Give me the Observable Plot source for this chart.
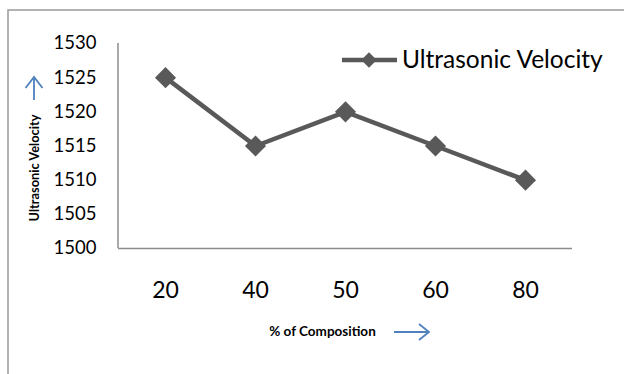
<!DOCTYPE html>
<html><head><meta charset="utf-8">
<script src="https://cdn.jsdelivr.net/npm/d3@7"></script>
<script src="https://cdn.jsdelivr.net/npm/@observablehq/plot@0.6"></script>
<style>body{margin:0;background:#fff;font-family:Lato,"Open Sans",sans-serif}#c{position:relative;width:624px;height:374px}</style>
</head><body><div id="c"></div>
<script>
const compositions = ["20","40","50","60","80"];
const velocities = [1525, 1515, 1520, 1515, 1510];
const yTicks = [1500,1505,1510,1515,1520,1525,1530];
const seriesName = "Ultrasonic Velocity";
const xTitle = "% of Composition";
const yTitle = "Ultrasonic Velocity";
const data = compositions.map((c,i)=>({c, v: velocities[i]}));
const col = "#595959";
const W=624,H=374, mL=118, mR=52, mT=43, mB=126;
const chart = Plot.plot({
  width:W, height:H, marginLeft:mL, marginRight:mR, marginTop:mT, marginBottom:mB,
  style:{fontFamily:"Lato, 'Open Sans', sans-serif", background:"transparent"},
  x:{type:"band", domain:compositions, padding:0, label:null},
  y:{domain:[1500,1530], label:null},
  marks:[
    Plot.axisY({ticks:yTicks, tickFormat:"d", tickSize:0, tickPadding:22, fontSize:18.5, fill:"#000", label:null}),
    Plot.axisX({tickSize:0, tickPadding:33, fontSize:23, fill:"#000", label:null}),
    Plot.ruleY([1500],{stroke:"#8c8c8c", strokeWidth:1.5}),
    Plot.line(data,{x:"c", y:"v", stroke:col, strokeWidth:4.5}),
    Plot.dot(data,{x:"c", y:"v", symbol:"diamond2", r:9.5, fill:col, stroke:null}),
    Plot.text([xTitle],{text:d=>d, frameAnchor:"bottom", dx:-23, dy:87, fontSize:13.5, fontWeight:"bold", fill:"#000"})
  ]
});
document.getElementById("c").appendChild(chart);
const svg = d3.select(chart);
const ys = chart.scale("y");
// left axis line from the y scale
svg.append("line").attr("x1",mL).attr("x2",mL).attr("y1",ys.apply(1500)).attr("y2",ys.apply(1530)).attr("stroke","#8c8c8c").attr("stroke-width",1.5);
// y title
svg.append("text").attr("transform",`translate(38.5,${(ys.apply(1500)+ys.apply(1530))/2+22.5}) rotate(-90)`)
  .attr("text-anchor","middle").attr("font-size",12.8).attr("font-weight","bold").attr("fill","#000").text(yTitle);
// outer border
svg.append("path").attr("d","M8,374V10H624").attr("fill","none").attr("stroke","#999").attr("stroke-width",1.5);
// arrows
const blue="#4f81bd";
svg.append("path").attr("d","M34,100V77M25.5,88L34,77L42.5,88").attr("fill","none").attr("stroke",blue).attr("stroke-width",1.8);
svg.append("path").attr("d","M394,332H429M419,324L429,332L419,340").attr("fill","none").attr("stroke",blue).attr("stroke-width",1.8);
// legend
const lg = svg.append("g");
lg.append("line").attr("x1",342).attr("x2",397).attr("y1",60).attr("y2",60).attr("stroke",col).attr("stroke-width",4.5);
lg.append("path").attr("d",d3.symbol(d3.symbolDiamond2, Math.PI*7*7)()).attr("transform","translate(369,60)").attr("fill",col);
lg.append("text").attr("x",402).attr("y",68).attr("text-anchor","start").attr("font-size",24.5).attr("fill","#000").text(seriesName);
</script></body></html>
